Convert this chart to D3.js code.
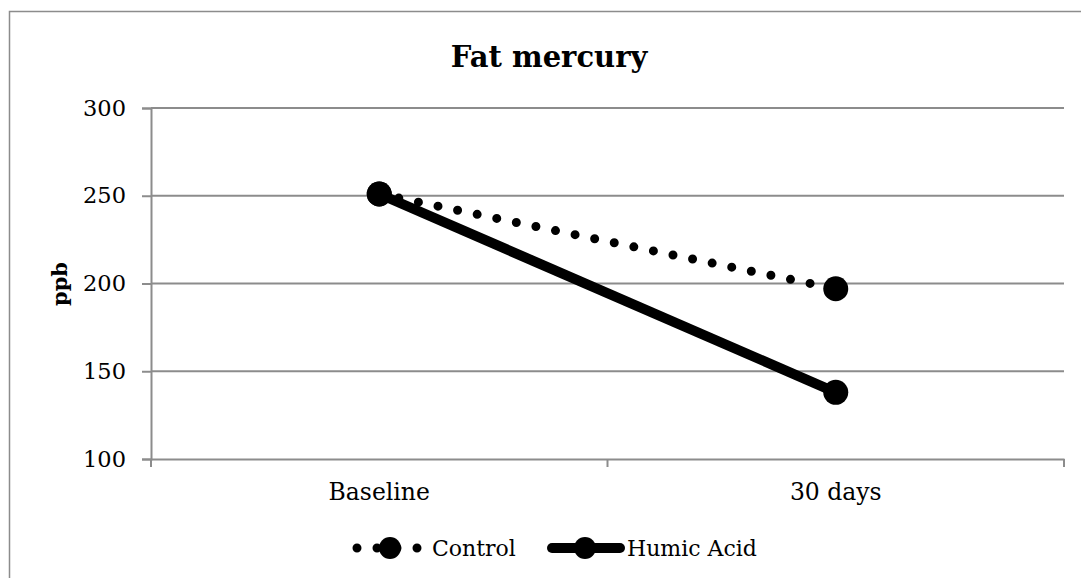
<!DOCTYPE html>
<html>
<head>
<meta charset="utf-8">
<script src="https://cdn.jsdelivr.net/npm/d3@7"></script>
<style>
  body { margin: 0; background: #fff; }
  text { font-family: 'DejaVu Serif', 'Liberation Serif', serif; fill: #000; }
</style>
</head>
<body>
<div id="chart"></div>
<script>
var categories = ['Baseline', '30 days']
var control = [251, 197]
var humicAcid = [251, 138]
var yTicks = [100, 150, 200, 250, 300]
var seriesNames = ['Control', 'Humic Acid']

var width = 1081
var height = 578
var plot = { left: 151, top: 108, right: 1064, bottom: 459 }

var svg = d3.select('#chart')
  .append('svg')
  .attr('width', width)
  .attr('height', height)

// outer chart border (runs off right and bottom)
svg.append('rect')
  .attr('x', 9.5)
  .attr('y', 11.5)
  .attr('width', 1200)
  .attr('height', 700)
  .attr('fill', 'none')
  .attr('stroke', '#8c8c8c')
  .attr('stroke-width', 1.5)

var x = d3.scaleBand()
  .domain(categories)
  .range([plot.left, plot.right])

var y = d3.scaleLinear()
  .domain([100, 300])
  .range([plot.bottom, plot.top])

// gridlines
svg.append('g')
  .selectAll('line')
  .data(yTicks.slice(1))
  .enter()
  .append('line')
  .attr('x1', plot.left)
  .attr('x2', plot.right)
  .attr('y1', function (d) { return y(d) })
  .attr('y2', function (d) { return y(d) })
  .attr('stroke', '#8c8c8c')
  .attr('stroke-width', 2)

// y axis
var yAxis = svg.append('g')
  .attr('transform', 'translate(' + plot.left + ',0)')
  .call(d3.axisLeft(y).tickValues(yTicks).tickSize(9).tickPadding(16))
yAxis.select('.domain').attr('stroke', '#8c8c8c').attr('stroke-width', 2)
yAxis.selectAll('.tick line').attr('stroke', '#8c8c8c').attr('stroke-width', 2)
yAxis.selectAll('.tick text')
  .style('font-size', '22.5px')

// x axis
var xAxis = svg.append('g')
  .attr('transform', 'translate(0,' + plot.bottom + ')')
  .call(d3.axisBottom(x).tickSize(0).tickPadding(24))
xAxis.select('.domain').attr('stroke', '#8c8c8c').attr('stroke-width', 2)
xAxis.selectAll('.tick text')
  .style('font-size', '23.5px')

// x tick marks at category boundaries
svg.append('g')
  .selectAll('line')
  .data([plot.left].concat(categories.map(function (c) { return x(c) + x.bandwidth() })))
  .enter()
  .append('line')
  .attr('x1', function (d) { return d })
  .attr('x2', function (d) { return d })
  .attr('y1', plot.bottom)
  .attr('y2', plot.bottom + 8)
  .attr('stroke', '#8c8c8c')
  .attr('stroke-width', 2)

function cx (d, i) { return x(categories[i]) + x.bandwidth() / 2 }

var line = d3.line()
  .x(cx)
  .y(function (d) { return y(d) })

// Control: dotted
svg.append('path')
  .datum(control)
  .attr('d', line)
  .attr('fill', 'none')
  .attr('stroke', '#000')
  .attr('stroke-width', 9)
  .attr('stroke-linecap', 'round')
  .attr('stroke-dasharray', '0 20')

// Humic acid: thick solid
svg.append('path')
  .datum(humicAcid)
  .attr('d', line)
  .attr('fill', 'none')
  .attr('stroke', '#000')
  .attr('stroke-width', 10)

svg.append('g').selectAll('circle')
  .data(control)
  .enter()
  .append('circle')
  .attr('cx', cx)
  .attr('cy', function (d) { return y(d) })
  .attr('r', 12.5)
  .attr('fill', '#000')

svg.append('g').selectAll('circle')
  .data(humicAcid)
  .enter()
  .append('circle')
  .attr('cx', cx)
  .attr('cy', function (d) { return y(d) })
  .attr('r', 12.5)
  .attr('fill', '#000')

// title
svg.append('text')
  .attr('x', 549)
  .attr('y', 67)
  .attr('text-anchor', 'middle')
  .style('font-size', '29px')
  .attr('font-weight', 'bold')
  .text('Fat mercury')

// y axis title
svg.append('text')
  .attr('transform', 'translate(67,284) rotate(-90)')
  .attr('text-anchor', 'middle')
  .style('font-size', '21px')
  .attr('font-weight', 'bold')
  .text('ppb')

// legend
var legendY = 548
var legend = svg.append('g')

legend.append('line')
  .attr('x1', 357).attr('x2', 420)
  .attr('y1', legendY).attr('y2', legendY)
  .attr('stroke', '#000')
  .attr('stroke-width', 9)
  .attr('stroke-linecap', 'round')
  .attr('stroke-dasharray', '0 20')
legend.append('circle')
  .attr('cx', 390).attr('cy', legendY).attr('r', 11)
  .attr('fill', '#000')
legend.append('text')
  .attr('x', 432).attr('y', legendY + 8)
  .style('font-size', '22px')
  .text(seriesNames[0])

legend.append('line')
  .attr('x1', 552).attr('x2', 620)
  .attr('y1', legendY).attr('y2', legendY)
  .attr('stroke', '#000')
  .attr('stroke-width', 10)
  .attr('stroke-linecap', 'round')
legend.append('circle')
  .attr('cx', 585).attr('cy', legendY).attr('r', 11)
  .attr('fill', '#000')
legend.append('text')
  .attr('x', 627).attr('y', legendY + 8)
  .style('font-size', '22px')
  .text(seriesNames[1])
</script>
</body>
</html>
